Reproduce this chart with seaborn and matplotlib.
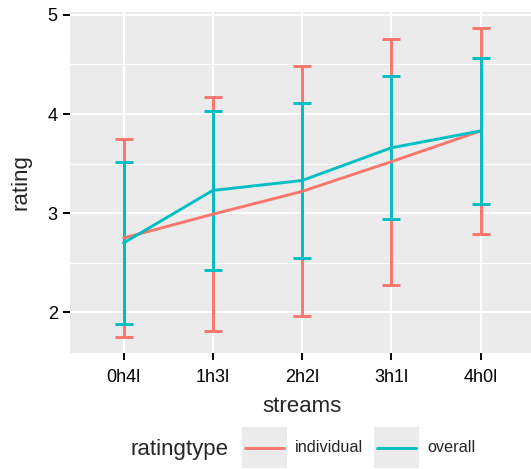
import numpy as np
import pandas as pd
import matplotlib
matplotlib.use("Agg")
import matplotlib.pyplot as plt
import seaborn as sns
from matplotlib.legend_handler import HandlerLine2D
from matplotlib.patches import Rectangle

# data (mean and +/- error per stream condition)
streams = ["0h4l", "1h3l", "2h2l", "3h1l", "4h0l"]
individual_mean = [2.75, 2.99, 3.22, 3.52, 3.83]
individual_err = [1.00, 1.18, 1.26, 1.24, 1.04]
overall_mean = [2.70, 3.23, 3.33, 3.66, 3.83]
overall_err = [0.815, 0.80, 0.78, 0.72, 0.735]
rating_types = ["individual", "overall"]
colors = {"individual": "#F8766D", "overall": "#00BFC4"}

df = pd.DataFrame({
    "streams": streams * 2,
    "rating": individual_mean + overall_mean,
    "err": individual_err + overall_err,
    "ratingtype": ["individual"] * 5 + ["overall"] * 5,
})

sns.set_theme(style="darkgrid")
plt.rcParams["font.family"] = ["Liberation Sans", "DejaVu Sans"]

W, H = 531, 469
fig = plt.figure(figsize=(W / 100, H / 100), dpi=100)
# panel runs a bit past the right edge, like the cropped original
ax = fig.add_axes([70 / W, 1 - 352.7 / H, (534.2 - 70) / W, (352.7 - 12.3) / H])
ax.set_facecolor("#EBEBEB")

lw = 2.1
# error bars first, like geom_errorbar
for rt in rating_types:
    sub = df[df.ratingtype == rt]
    xpos = [streams.index(s) for s in sub.streams]
    ax.errorbar(xpos, sub.rating, yerr=sub.err, fmt="none", ecolor=colors[rt],
                elinewidth=lw, capsize=6.4, capthick=lw, zorder=2)

sns.lineplot(data=df, x="streams", y="rating", hue="ratingtype", palette=colors,
             linewidth=lw, ax=ax, legend=False, zorder=3, sort=False)

# ggplot-like limits (5% continuous, 0.6 discrete expansion)
lo = (df.rating - df.err).min()
hi = (df.rating + df.err).max()
pad = 0.05 * (hi - lo)
ax.set_ylim(lo - pad, hi + pad)
ax.set_xlim(-0.6, len(streams) - 0.4)

ax.set_yticks([2, 3, 4, 5])
ax.set_yticks([2.5, 3.5, 4.5], minor=True)
ax.set_xticks(range(len(streams)))
ax.set_xticklabels(streams)
ax.grid(which="major", color="white", linewidth=1.5)
ax.grid(which="minor", axis="y", color="white", linewidth=0.8)
ax.grid(which="minor", axis="x", visible=False)
ax.tick_params(which="major", length=4.8, width=1.4, color="black", labelsize=13,
               labelcolor="black")
ax.tick_params(axis="x", pad=7)
ax.tick_params(axis="y", pad=4)
ax.tick_params(which="minor", length=0)
ax.tick_params(axis="both", left=True, bottom=True)
for sp in ax.spines.values():
    sp.set_visible(False)

ax.set_xlabel("streams", fontsize=16, labelpad=7)
ax.set_ylabel("rating", fontsize=16, labelpad=12)


class KeyHandler(HandlerLine2D):
    # grey key background with a slightly inset line, ggplot style
    def create_artists(self, legend, orig_handle, xdescent, ydescent, width, height, fontsize, trans):
        box = Rectangle((-xdescent, -ydescent), width, height, facecolor="#EBEBEB",
                        edgecolor="none", transform=trans)
        ymid = height / 2 - ydescent
        line = plt.Line2D([-xdescent + 2.2, -xdescent + width - 2.2], [ymid, ymid],
                          color=orig_handle.get_color(), linewidth=orig_handle.get_linewidth(),
                          transform=trans)
        return [box, line]


handles = [plt.Line2D([], [], color=colors[rt], linewidth=lw) for rt in rating_types]
fig.legend(handles, rating_types, loc="center left", bbox_to_anchor=(242 / W, 1 - 447.8 / H),
           ncol=2, frameon=False, fontsize=11.7, handlelength=2.77, handleheight=3.5,
           handletextpad=0.49, columnspacing=0.66, borderpad=0, borderaxespad=0,
           handler_map={plt.Line2D: KeyHandler()})
fig.text(228 / W, 1 - 449 / H, "ratingtype", fontsize=16, va="center", ha="right")

fig.savefig("out.png", dpi=100)
